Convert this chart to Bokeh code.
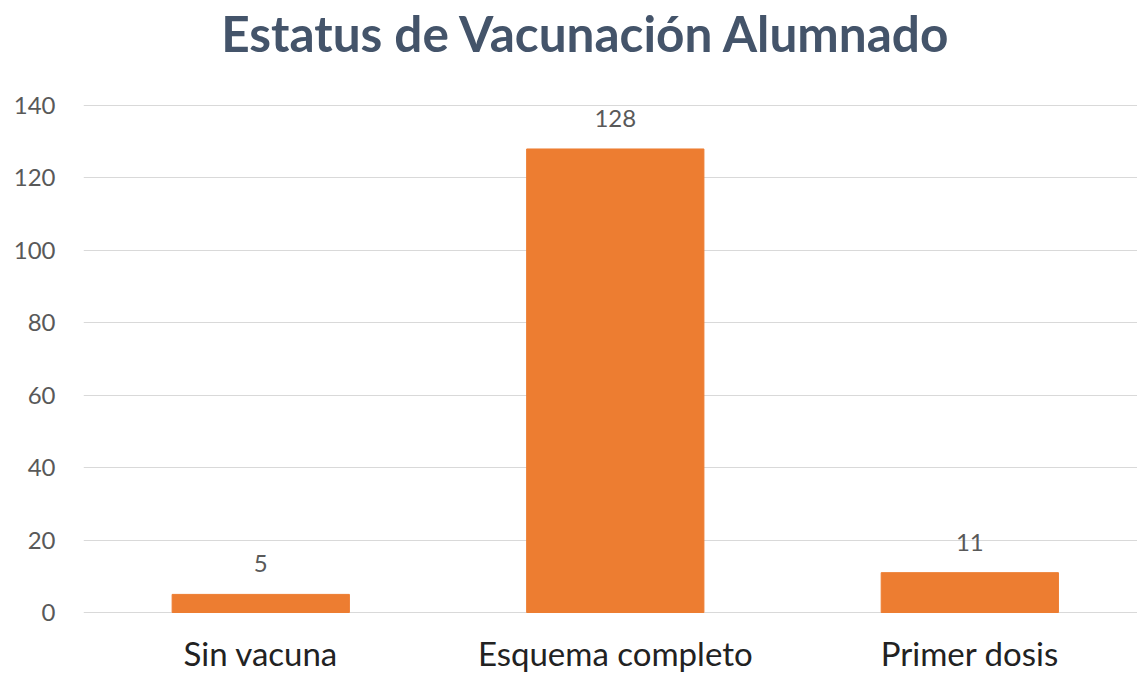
from bokeh.plotting import figure
from bokeh.models import ColumnDataSource, Range1d, FixedTicker, LabelSet, Label
from bokeh.core.properties import value
from bokeh.embed import file_html
from bokeh.resources import INLINE

title_text = "Estatus de Vacunación Alumnado"
categories = ["Sin vacuna", "Esquema completo", "Primer dosis"]
values = [5, 128, 11]
y_ticks = [0, 20, 40, 60, 80, 100, 120, 140]

xpos = list(range(len(categories)))
src = ColumnDataSource(dict(x=xpos, top=values, zero=[0] * len(values),
                            label=[str(v) for v in values], cat=categories))

# frame covers whole canvas; y range extended so that 0..140 sits where the reference draws it
p = figure(width=1137, height=679, output_backend="svg", toolbar_location=None,
           x_range=Range1d(-0.5, 2.473), y_range=Range1d(-18.5, 169.0))
p.min_border_left = 83
p.min_border_right = 0
p.min_border_bottom = 0
p.min_border_top = 0
p.outline_line_color = None
p.background_fill_color = "white"
p.border_fill_color = "white"

p.vbar(x="x", top="top", bottom=0, width=0.5, source=src, color="#ED7D31")

labels = LabelSet(x="x", y="top", text="label", source=src, text_align="center",
                  text_baseline="alphabetic", y_offset=22, text_font_size="24px",
                  text_color="#595959", text_font=value("Lato"))
p.add_layout(labels)

cat_labels = LabelSet(x="x", y="zero", text="cat", source=src, text_align="center",
                      text_baseline="alphabetic", y_offset=-53, text_font_size="33px",
                      text_color="#222222", text_font=value("Lato"))
p.add_layout(cat_labels)

title = Label(x=503, y=647, x_units="screen", y_units="screen", text=title_text,
              text_align="center", text_baseline="alphabetic", text_font="Lato",
              text_font_style="bold", text_font_size="49.5px", text_color="#44546A")
p.add_layout(title)

p.xaxis.visible = False

p.yaxis.ticker = FixedTicker(ticks=y_ticks)
p.yaxis.major_label_text_font = "Lato"
p.yaxis.major_label_text_font_size = "24px"
p.yaxis.major_label_text_color = "#595959"
p.yaxis.major_label_standoff = 28
p.yaxis.major_tick_out = 0
p.yaxis.major_tick_in = 0
p.yaxis.axis_line_color = None
p.yaxis.major_tick_line_color = None
p.yaxis.minor_tick_line_color = None

p.xgrid.grid_line_color = None
p.ygrid.grid_line_color = "#D9D9D9"
p.ygrid.grid_line_width = 1
p.ygrid.ticker = FixedTicker(ticks=y_ticks)

open("out.html", "w").write(file_html(p, INLINE))
